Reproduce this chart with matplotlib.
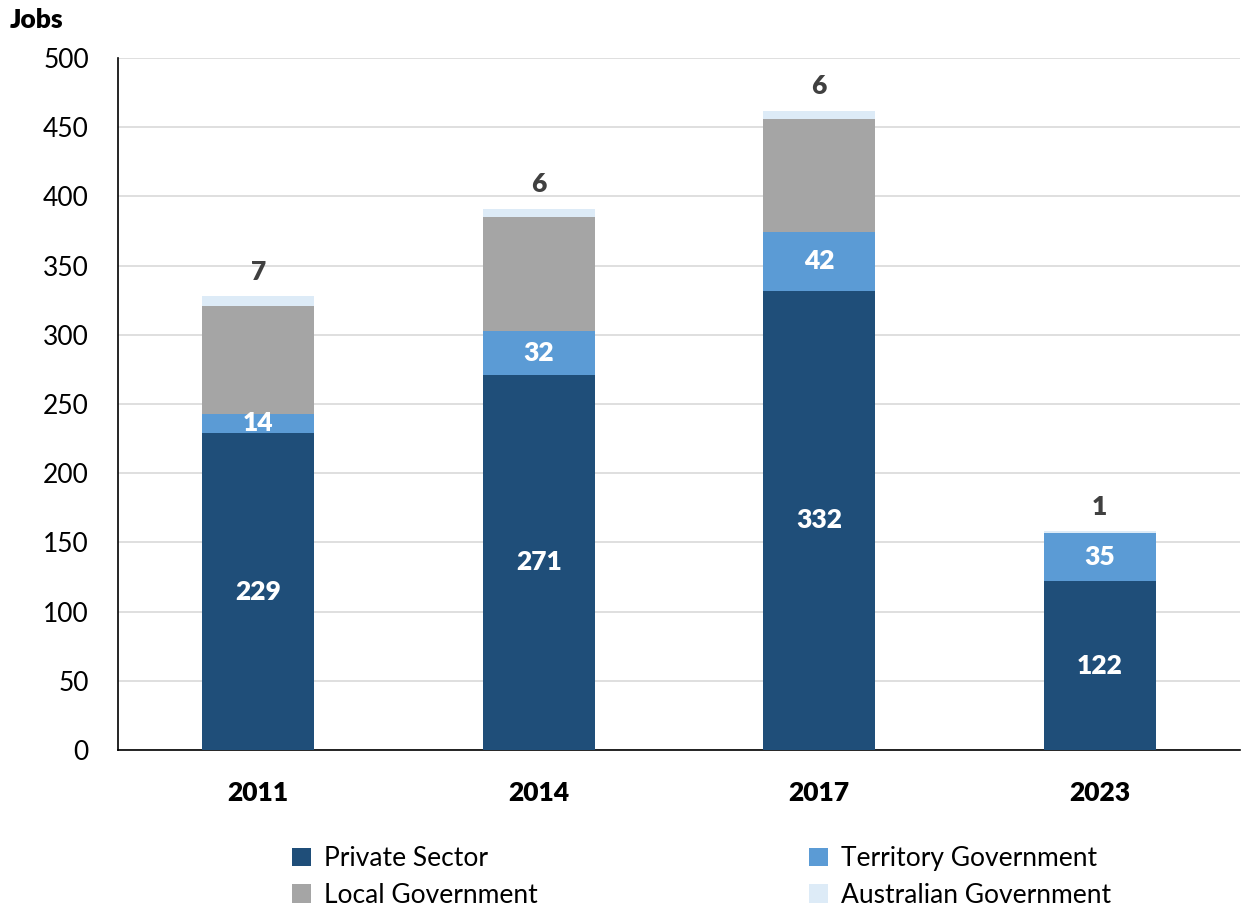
import matplotlib
matplotlib.use("Agg")
import matplotlib.pyplot as plt
import numpy as np

plt.rcParams['font.family'] = ['Lato', 'DejaVu Sans']

years = ["2011", "2014", "2017", "2023"]
private_sector = [229, 271, 332, 122]
territory_gov = [14, 32, 42, 35]
local_gov = [78, 82, 82, 0]
australian_gov = [7, 6, 6, 1]

series_names = ["Private Sector", "Territory Government", "Local Government", "Australian Government"]
colors = ["#1F4E79", "#5B9BD5", "#A5A5A5", "#DDEBF7"]

fig = plt.figure(figsize=(12.45, 9.14), dpi=100)
ax = fig.add_axes([118/1245, 1 - 750/914, (1240-118)/1245, (750-58)/914])

x = np.arange(len(years))
w = 0.4
bottom = np.zeros(len(years))
handles = []
for vals, name, c in zip([private_sector, territory_gov, local_gov, australian_gov], series_names, colors):
    b = ax.bar(x, vals, w, bottom=bottom, color=c, label=name, zorder=3)
    handles.append(b)
    bottom = bottom + np.array(vals)

fs = 19
for i in range(len(years)):
    ax.text(x[i], private_sector[i] / 2, str(private_sector[i]), ha='center', va='center',
            color='white', fontsize=fs, fontweight='heavy', zorder=4)
    ax.text(x[i], private_sector[i] + territory_gov[i] / 2, str(territory_gov[i]), ha='center', va='center',
            color='white', fontsize=fs, fontweight='heavy', zorder=4)
    ax.text(x[i], bottom[i] + 9, str(australian_gov[i]), ha='center', va='bottom',
            color='#404040', fontsize=fs, fontweight='heavy', zorder=4)

ax.set_xlim(-0.5, len(years) - 0.5)
ax.set_ylim(0, 500)
ax.set_yticks(np.arange(0, 501, 50))
ax.set_xticks(x)
ax.set_xticklabels(years, fontsize=fs, fontweight='heavy')
ax.tick_params(axis='y', labelsize=fs, length=0, pad=21)
ax.tick_params(axis='x', length=0, pad=22)
ax.grid(axis='y', color='#D9D9D9', linewidth=1.2, zorder=0)
ax.set_axisbelow(True)
for s in ['top', 'right']:
    ax.spines[s].set_visible(False)
ax.spines['left'].set_color('black')
ax.spines['bottom'].set_color('black')
ax.spines['left'].set_linewidth(1.2)
ax.spines['bottom'].set_linewidth(1.2)

fig.text(10/1245, 1 - 20/914, "Jobs", fontsize=fs, fontweight='heavy', ha='left', va='center')

order = [0, 2, 1, 3]
leg = fig.legend([handles[i] for i in order], [series_names[i] for i in order],
                 loc='center', bbox_to_anchor=(0.5635, 1 - 877/914), ncol=2, frameon=False,
                 fontsize=fs, handlelength=0.7, handleheight=0.7, handletextpad=0.5,
                 columnspacing=10.3, labelspacing=0.45)

fig.savefig("out.png", dpi=100)
